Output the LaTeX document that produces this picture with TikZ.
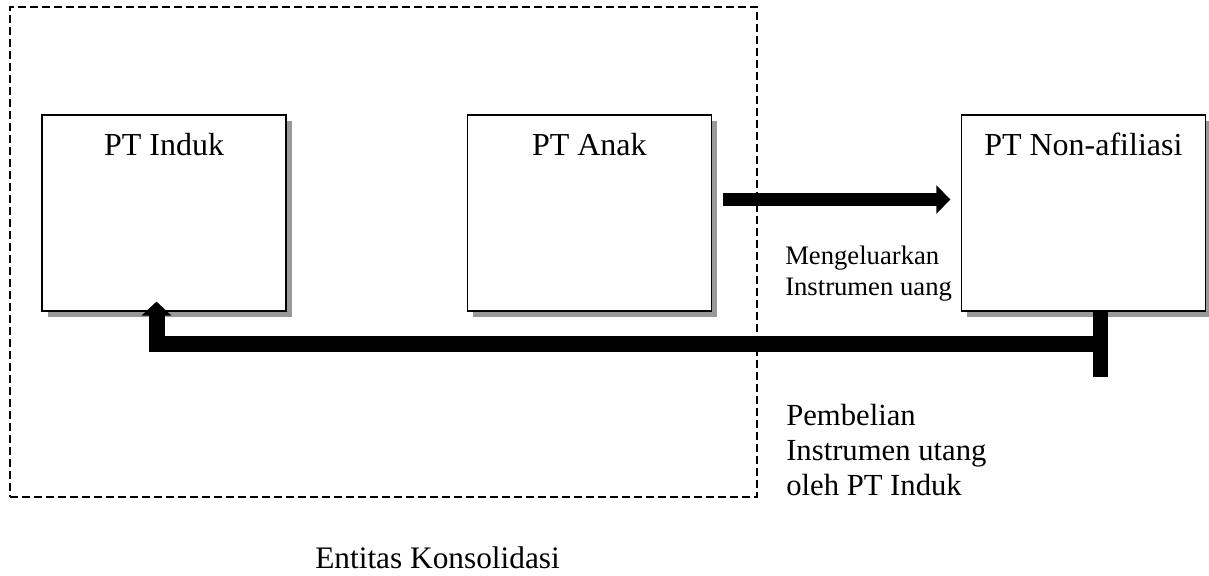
\documentclass[tikz,border=0pt]{standalone}
\usepackage{fontspec}
\setmainfont{Liberation Serif}
\usetikzlibrary{arrows.meta,shadows,calc}

\tikzstyle{pt} = [rectangle, draw=black, line width=0.8pt, fill=white, minimum width=183pt, inner sep=0pt, text height=30pt, text depth=117pt, font=\fontsize{24}{28}\selectfont, drop shadow={shadow xshift=4.5pt, shadow yshift=-4.5pt, fill=black!40, opacity=1}]
\tikzstyle{grup} = [rectangle, draw=black, line width=0.9pt, dash pattern=on 6pt off 3pt, minimum width=560.25pt, minimum height=367.5pt, inner sep=0pt]
\tikzstyle{ket} = [inner sep=0pt, align=left, anchor=north west]
\tikzstyle{panah} = [-{Triangle[width=21pt,length=10.5pt]}]

\begin{document}
\begin{tikzpicture}[x=0.75pt,y=-0.75pt,node distance=319pt]
        \useasboundingbox (0,0) rectangle (1209,575);
        \node[grup] (ent) at (383.5,252) {};
        \node[pt] (induk) at (164,213) {PT Induk};
        \node[pt] (anak) [right of=induk] {PT Anak};
        \node[pt] (nonaf) [right of=anak, xshift=51.5pt] {PT Non-afiliasi};
        \node[ket, font=\fontsize{20}{23.25}\selectfont] (keluar) at (785,246) {Mengeluarkan\\Instrumen uang};
        \node[ket, font=\fontsize{23}{26.25}\selectfont] (beli) at (786,404) {Pembelian\\Instrumen utang\\oleh PT Induk};
        \node[ket, font=\fontsize{23.5}{27}\selectfont] (judul) at (315,546) {Entitas Konsolidasi};
        \coordinate (kakiatas) at ($(nonaf.south)+(17,0)$);
        \coordinate (kakibawah) at ($(nonaf.south)+(17,65)$);
        \coordinate (kaki) at ($(nonaf.south)+(17,32.5)$);
        \draw[line width=11.25pt] (kakiatas) -- (kakibawah);
        \draw[panah, line width=9.75pt] ($(anak.east)+(11.5,-13.5)$) -- ($(nonaf.west)+(-10.5,-13.5)$);
        \draw[-{Triangle[width=21.75pt,length=10.5pt]}, line width=12pt] (kaki) -| ($(induk.south)+(-7.5,-10)$);
\end{tikzpicture}
\end{document}
